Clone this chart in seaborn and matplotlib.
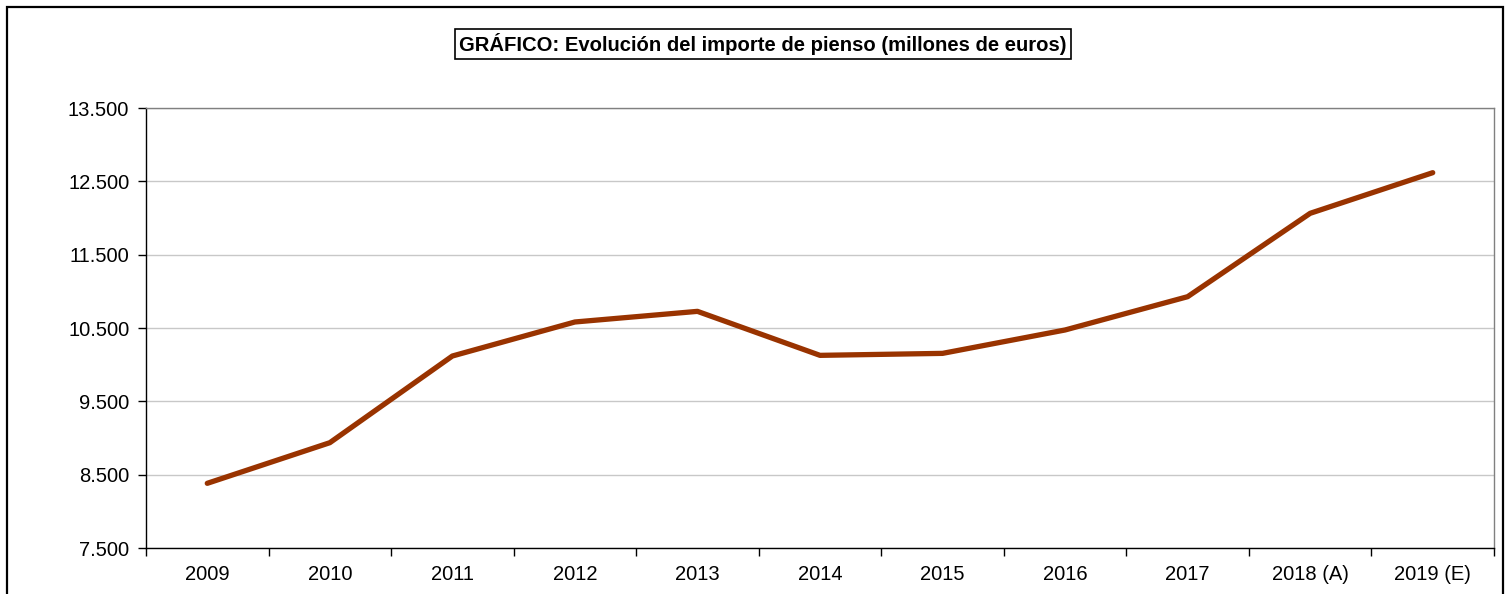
import numpy as np
import pandas as pd
import matplotlib
matplotlib.use('Agg')
import matplotlib.pyplot as plt
from matplotlib.patches import Rectangle
from matplotlib.ticker import FuncFormatter
import seaborn as sns

years = ['2009', '2010', '2011', '2012', '2013', '2014', '2015', '2016',
         '2017', '2018 (A)', '2019 (E)']
importe = [8382, 8936, 10118, 10582, 10727, 10127, 10154, 10473, 10927,
           12064, 12618]
y_ticks = [7500, 8500, 9500, 10500, 11500, 12500, 13500]
title = 'GRÁFICO: Evolución del importe de pienso (millones de euros)'

sns.set_style('white')
plt.rcParams['font.family'] = ['Liberation Sans', 'DejaVu Sans']
plt.rcParams['text.color'] = 'black'
plt.rcParams['xtick.color'] = 'black'
plt.rcParams['ytick.color'] = 'black'

df = pd.DataFrame({'year': years, 'importe': importe})

fig = plt.figure(figsize=(15.06, 5.94), dpi=100)
ax = fig.add_axes([146 / 1506, 1 - 548 / 594, 1348 / 1506, 440 / 594])

sns.lineplot(data=df, x='year', y='importe', ax=ax, color='#993300',
             linewidth=3.8, solid_capstyle='round', sort=False)

ax.set_xlim(-0.5, len(years) - 0.5)
ax.set_ylim(7500, 13500)
ax.set_yticks(y_ticks)
ax.yaxis.set_major_formatter(FuncFormatter(lambda v, p: f'{int(v):,}'.replace(',', '.')))
ax.set_xticks(range(len(years)))
ax.set_xticklabels(years)
ax.set_xticks(np.arange(-0.5, len(years), 1), minor=True)
ax.tick_params(axis='x', which='major', bottom=True, length=0, pad=12, labelsize=14.5)
ax.tick_params(axis='x', which='minor', bottom=True, length=6, width=1, direction='out')
ax.tick_params(axis='y', left=True, length=6, width=1, direction='out', pad=6, labelsize=14.5)
ax.set_xlabel('')
ax.set_ylabel('')

ax.yaxis.grid(True, color='#c8c8c8', linewidth=1)
ax.set_axisbelow(True)
for side in ['left', 'bottom']:
    ax.spines[side].set_color('black')
    ax.spines[side].set_linewidth(1)
for side in ['top', 'right']:
    ax.spines[side].set_color('#808080')
    ax.spines[side].set_linewidth(1)

fig.text(763 / 1506, 1 - 44 / 594, title, ha='center', va='center',
         fontsize=14.6, fontweight='bold',
         bbox=dict(boxstyle='square,pad=0.22', facecolor='white',
                   edgecolor='black', linewidth=1.2))

fig.patches.append(Rectangle((7 / 1506, -0.1), 1496 / 1506, 1.1 - 7 / 594,
                             transform=fig.transFigure, fill=False,
                             edgecolor='black', linewidth=1.6))

fig.savefig('out.png', dpi=100)
